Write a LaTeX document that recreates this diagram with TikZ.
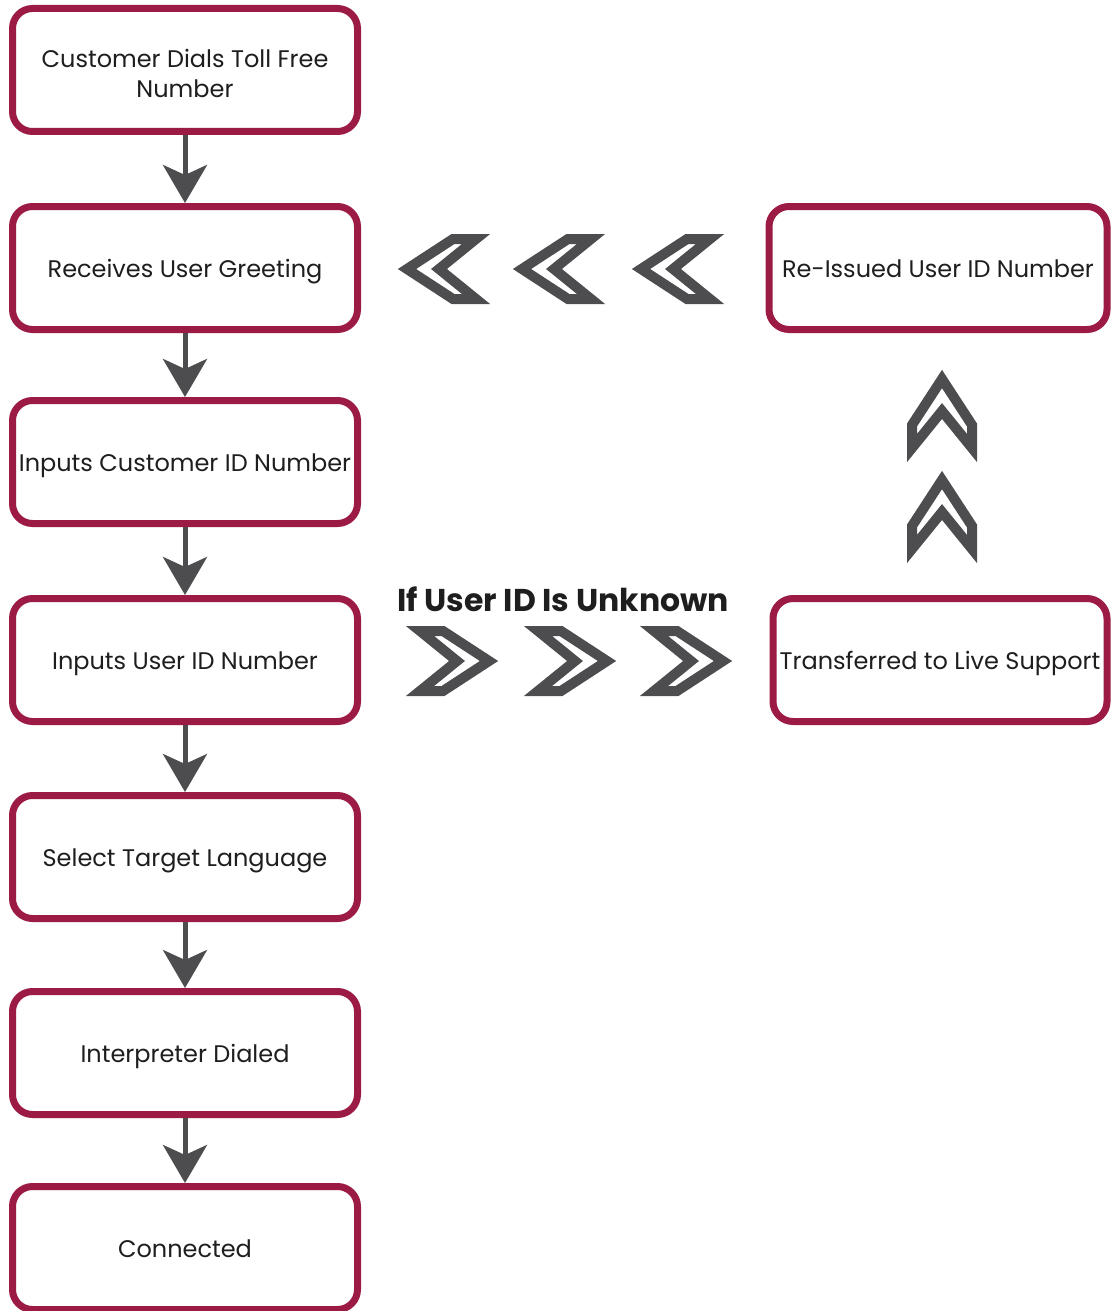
\documentclass[tikz,border=0pt]{standalone}
\usepackage{fontspec}
\setmainfont{Poppins}
\usetikzlibrary{arrows.meta}
\definecolor{boxred}{RGB}{155,27,69}
\definecolor{arrowgray}{RGB}{77,77,80}
\definecolor{txt}{RGB}{30,30,30}

\begin{document}
\begin{tikzpicture}[x=1pt,y=-1pt,
  stepbox/.style={draw=boxred, line width=7pt, rounded corners=20pt,
    minimum width=345pt, minimum height=123pt, fill=white, text=txt,
    font=\fontsize{24}{30}\selectfont, align=center, inner sep=0pt,
    text height=18pt, text depth=0pt},
  sidebox/.style={stepbox, minimum width=338pt},
  flow/.style={draw=arrowgray, line width=5pt,
    -{Stealth[length=38pt,width=44pt,inset=10pt]}},
  chevron/.pic={\draw[draw=arrowgray, line width=10pt, miter limit=10, fill=white]
    (0,0) -- (-46,30) -- (-69,30) -- (-32,0) -- (-69,-30) -- (-46,-30) -- cycle;}
]
\useasboundingbox (0,0) rectangle (1111,1311);

% main column
\node[stepbox, text height=56pt] (dial) at (185,70) {Customer Dials Toll Free\\Number};
\node[stepbox] (greet)    at (185,268)  {Receives User Greeting};
\node[stepbox] (custid)   at (185,462)  {Inputs Customer ID Number};
\node[stepbox] (userid)   at (185,660)  {Inputs User ID Number};
\node[stepbox] (lang)     at (185,857)  {Select Target Language};
\node[stepbox] (interp)   at (185,1053) {Interpreter Dialed};
\node[stepbox] (done)     at (185,1248) {Connected};

% side branch
\node[sidebox] (reissue)  at (938,268)  {Re-Issued User ID Number};
\node[sidebox, minimum width=334pt] (live) at (940,660) {Transferred to Live Support};

\draw[flow] (dial)   -- (greet);
\draw[flow] (greet)  -- (custid);
\draw[flow] (custid) -- (userid);
\draw[flow] (userid) -- (lang);
\draw[flow] (lang)   -- (interp);
\draw[flow] (interp) -- (done);

% branch label
\node[anchor=base, text=txt, font=\fontsize{31.5}{38}\selectfont\bfseries] (unknown)
  at (563,611) {If User ID Is Unknown};

% chevrons towards live support
\pic at (489,661) {chevron};
\pic at (607,661) {chevron};
\pic at (723,661) {chevron};

% chevrons up to the re-issued number
\pic[rotate=90] at (942,480) {chevron};
\pic[rotate=90] at (942,379) {chevron};

% chevrons back to the greeting
\pic[rotate=180] at (407,269) {chevron};
\pic[rotate=180] at (522,269) {chevron};
\pic[rotate=180] at (641,269) {chevron};
\end{tikzpicture}
\end{document}
